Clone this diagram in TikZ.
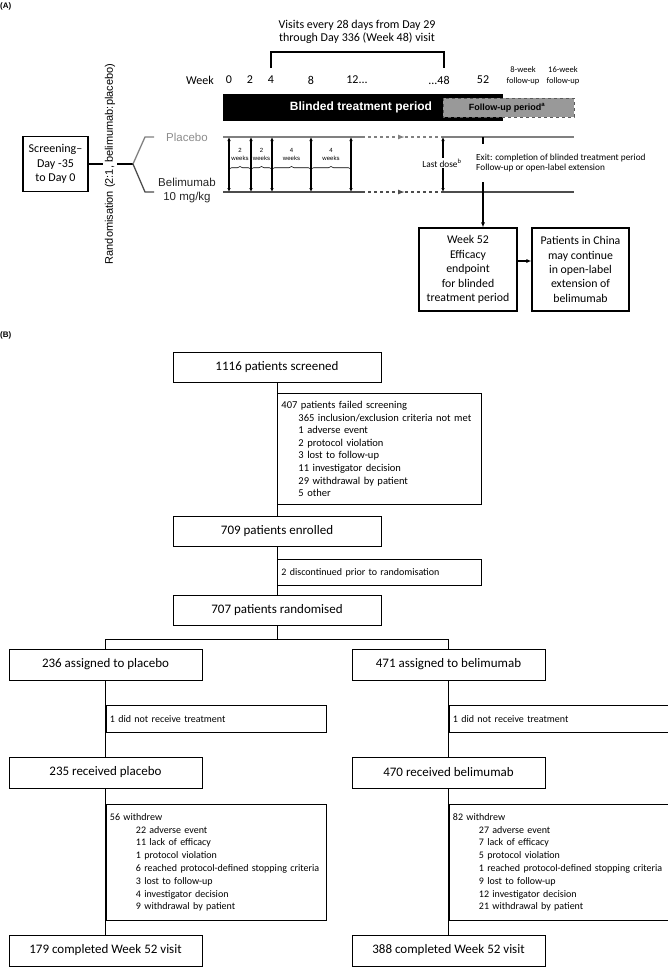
\documentclass[tikz,border=0pt]{standalone}
\usepackage{fontspec}
\setmainfont{Carlito}
\newfontfamily\arialfont{Liberation Sans}
\usepackage{tikz}
\usetikzlibrary{arrows.meta,decorations.pathreplacing}
\newcommand\indA{\hspace*{17pt}}
\newcommand\indB{\hspace*{26pt}}
\newcommand\fsz[2]{\fontsize{#1}{#2}\selectfont}

\begin{document}
\begin{tikzpicture} [x = 1pt, y = -1pt,
    box/.style = {draw,
    line width = 0.9pt,
    minimum width = 208pt,
    minimum height = 30pt,
    inner sep = 0pt,
    font = \fsz{13}{15}},
    arm/.style = {box,
    minimum width = 193pt,
    minimum height = 31pt},
    note/.style = {draw,
    line width = 0.9pt,
    anchor = north west,
    align = left,
    inner xsep = 4pt,
    inner ysep = 0pt,
    font = \fsz{10}{12.8}},
    abox/.style = {draw,
    line width = 1.1pt,
    align = center,
    inner sep = 0pt,
    font = \fsz{12}{14.5}},
    wk/.style = {font = \fsz{12}{14}},
    dbl/.style = {{Latex[length=4pt,width=3.5pt]}-{Latex[length=4pt,width=3.5pt]},
    line width = 1.1pt},
    pl/.style = {line width = 1.3pt, black!50},
    bl/.style = {line width = 1.3pt, black!70},
    brc/.style = {decorate,
    decoration = {brace, amplitude = 2.5pt},
    line width = 0.6pt},
    conn/.style = {line width = 0.9pt}]

\useasboundingbox (0,0) rectangle (668,967);

% (A) study design
\node (lblA) at (0,6) [anchor = west, inner sep = 0pt, font = \arialfont\bfseries\fsz{8}{9}] {(A)};
\node (visits) at (357,31.5) [align = center, font = \fsz{12}{13}] {Visits every 28 days from Day 29\\through Day 336 (Week 48) visit};
\draw [line width = 1.1pt] (271,68) -- (271,52) -- (444,52) -- (444,68);

\node (week) at (200,80) [wk] {Week};
\node (w0) at (229,80) [wk] {0};
\node (w2) at (250,80) [wk] {2};
\node (w4) at (271,80) [wk] {4};
\node (w8) at (311,80) [wk] {8};
\node (w12) at (357,80) [wk] {12...};
\node (w48) at (439,80) [wk] {...48};
\node (w52) at (483,80) [wk] {52};
\node (fu8) at (523,75.5) [align = center, font = \fsz{8.5}{11}] {8-week\\follow-up};
\node (fu16) at (563,75.5) [align = center, font = \fsz{8.5}{11}] {16-week\\follow-up};

\fill (223,94) rectangle (503,121);
\draw [fill = black!40, draw = black!65, dashed, line width = 0.8pt] (443,98) rectangle (574,117);
\node (blind) at (361,107.5) [text = white, font = \arialfont\bfseries\fsz{12}{14}] {Blinded treatment period};
\node (fup) at (507,107.5) [font = \arialfont\bfseries\fsz{9}{10}] {Follow-up period\textsuperscript{a}};

\node (scr) at (55.5,164) [abox, minimum width = 65pt, minimum height = 55pt] {Screening–\\Day -35\\to Day 0};
\coordinate (fork) at (133,164);
\draw [line width = 1.1pt] (scr) -- (fork);
\node (rand) at (110,164) [rotate = 90, fill = white, inner sep = 1.5pt, font = \arialfont\fsz{11}{13}] {Randomisation (2:1, belimumab:placebo)};
\draw [pl] (fork) -- (145,137) -- (154,137);
\draw [bl] (fork) -- (145,192) -- (154,192);
\node (plac) at (187,137) [text = black!45, font = \arialfont\fsz{11.5}{13}] {Placebo};
\node (beli) at (187,191) [align = center, text = black!85, font = \arialfont\fsz{11.5}{14}] {Belimumab\\10 mg/kg};

\draw [pl] (223,137) -- (362,137);
\draw [pl, dashed, -{Latex[length=7pt,width=5pt]}] (362,137) -- (405,137);
\draw [pl, dashed] (405,137) -- (443,137);
\draw [pl] (443,137) -- (574,137);
\draw [bl] (223,192) -- (362,192);
\draw [bl, dashed, -{Latex[length=7pt,width=5pt]}] (362,192) -- (405,192);
\draw [bl, dashed] (405,192) -- (443,192);
\draw [bl] (443,192) -- (574,192);

\foreach \x in {229,251,272,311,351,443}
  \draw [dbl] (\x,137) -- (\x,192);
\foreach \a/\b/\n in {229/251/2, 251/272/2, 272/311/4, 311/351/4} {
  \draw [brc] (\a,169) -- (\b,169);
  \node (gap\a) at ({(\a+\b)/2},154) [align = center, inner sep = 0pt, font = \arialfont\fsz{6}{8}] {\n\\weeks};
}
\node (last) at (442,163) [fill = white, inner sep = 1pt, font = \fsz{9.3}{11}] {Last dose\textsuperscript{b}};

\node (wk52) at (468,269.5) [abox, minimum width = 98pt, minimum height = 83pt, font = \fsz{11.8}{14.4}] {Week 52\\Efficacy\\endpoint\\for blinded\\treatment period};
\node (china) at (580.5,269.5) [abox, minimum width = 97pt, minimum height = 83pt, font = \fsz{11.8}{14.4}] {Patients in China\\may continue\\in open-label\\extension of\\belimumab};
\coordinate (exit52) at (483,137);
\draw [-{Latex[length=5pt,width=4pt]}, line width = 1.1pt] (exit52) -- (exit52 |- wk52.north);
\node (exit) at (475,163) [anchor = west, fill = white, align = left, inner xsep = 1pt, inner ysep = 10pt, font = \fsz{9.3}{10.5}] {Exit: completion of blinded treatment period\\Follow-up or open-label extension};
\draw [-{Latex[length=5pt,width=4pt]}, line width = 1.1pt] ([yshift = 8.5pt]wk52.east) -- ([yshift = 8.5pt]china.west);

% (B) patient flow
\node (lblB) at (0,335) [anchor = west, inner sep = 0pt, font = \arialfont\bfseries\fsz{8}{9}] {(B)};

\node (scr2) at (277,367) [box] {1116 patients screened};
\node (fail) at (277,393) [note, text width = 196pt, minimum height = 111pt, font = \fsz{10.5}{12.6}] {407 patients failed screening\\
\indA \mbox{365 inclusion/exclusion criteria not met}\\
\indA 1 adverse event\\
\indA 2 protocol violation\\
\indA 3 lost to follow-up\\
\indA 11 investigator decision\\
\indA 29 withdrawal by patient\\
\indA 5 other};
\node (enr) at (277,531) [box] {709 patients enrolled};
\node (disc) at (277,559) [note, text width = 196pt, minimum height = 26pt] {2 discontinued prior to randomisation};
\node (rnd) at (277,610) [box] {707 patients randomised};

\node (asgP) at (105.5,664.5) [arm] {236 assigned to placebo};
\node (asgB) at (448.5,664.5) [arm] {471 assigned to belimumab};
\node (norxP) at (105.5,705) [note, text width = 212pt, minimum height = 27pt] {1 did not receive treatment};
\node (norxB) at (448.5,705) [note, text width = 211pt, minimum height = 27pt] {1 did not receive treatment};
\node (recP) at (105.5,772.5) [arm] {235 received placebo};
\node (recB) at (448.5,772.5) [arm] {470 received belimumab};
\node (wdP) at (105.5,804) [note, text width = 212pt, minimum height = 116pt] {56 withdrew\\
\indB 22 adverse event\\
\indB 11 lack of efficacy\\
\indB 1 protocol violation\\
\indB \mbox{6 reached protocol-defined stopping criteria}\\
\indB 3 lost to follow-up\\
\indB 4 investigator decision\\
\indB 9 withdrawal by patient};
\node (wdB) at (448.5,804) [note, text width = 211pt, minimum height = 116pt] {82 withdrew\\
\indB 27 adverse event\\
\indB 7 lack of efficacy\\
\indB 5 protocol violation\\
\indB \mbox{1 reached protocol-defined stopping criteria}\\
\indB 9 lost to follow-up\\
\indB 12 investigator decision\\
\indB 21 withdrawal by patient};
\node (cmpP) at (105.5,950.5) [arm] {179 completed Week 52 visit};
\node (cmpB) at (448.5,950.5) [arm] {388 completed Week 52 visit};

\draw [conn] (scr2) -- (enr);
\draw [conn] (enr) -- (rnd);
\draw [conn] (rnd.south) -- ++(0,14) coordinate (split);
\draw [conn] (split) -| (asgP);
\draw [conn] (split) -| (asgB);
\draw [conn] (asgP) -- (recP);
\draw [conn] (asgB) -- (recB);
\draw [conn] (recP) -- (cmpP);
\draw [conn] (recB) -- (cmpB);

\end{tikzpicture}
\end{document}
